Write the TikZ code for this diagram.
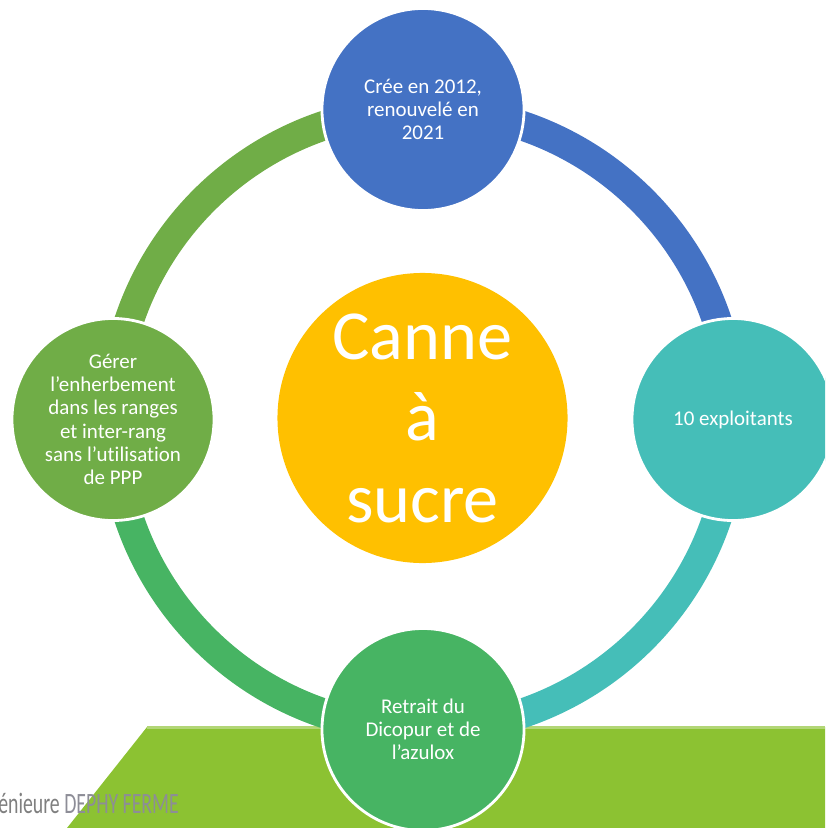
\documentclass[tikz,border=0pt]{standalone}
\usepackage{fontspec}
\setmainfont{Carlito}[Ligatures={NoCommon,NoRequired,NoContextual}]
\definecolor{cblue}{HTML}{4472C4}
\definecolor{cteal}{HTML}{45BEB8}
\definecolor{cgreenB}{HTML}{47B463}
\definecolor{cgreenL}{HTML}{70AD47}
\definecolor{cyellow}{HTML}{FFC000}
\definecolor{clime}{HTML}{8CC232}
\definecolor{climeL}{HTML}{B2D676}
\definecolor{cgrayA}{HTML}{7F7F7F}
\definecolor{cgrayB}{HTML}{8D8D97}
\tikzset{
  ringseg/.style={line width=21pt, line cap=butt},
  satellite/.style={circle, minimum size=5.05cm, inner sep=0pt, draw=white, line width=2pt,
     text=white, align=center, font=\fontsize{14.9}{16.5}\selectfont},
  hub/.style={circle, minimum size=7.25cm, inner sep=0pt, fill=cyellow, text=white,
     align=center, font=\fontsize{50}{58}\selectfont},
}
\begin{document}
\begin{tikzpicture}[x=0.025cm, y=0.025cm]
\useasboundingbox (0,0) rectangle (825,-828);
\clip (0,0) rectangle (825,-828);
% background lime band
\fill[clime] (147,-727) -- (825,-727) -- (825,-828) -- (67,-828) -- cycle;
\draw[climeL, line width=1.5pt] (147,-727.5) -- (825,-727.5);
% nodes positions
\coordinate (c) at (423,-419.5);
\coordinate (pT) at (423,-109.5);
\coordinate (pR) at (733,-419.5);
\coordinate (pB) at (423,-729.5);
\coordinate (pL) at (113,-419.5);
% ring segments
\draw[ringseg, cblue] (pT) arc[start angle=90, end angle=0, radius=7.75cm];
\draw[ringseg, cteal] (pR) arc[start angle=0, end angle=-90, radius=7.75cm];
\draw[ringseg, cgreenB] (pB) arc[start angle=-90, end angle=-180, radius=7.75cm];
\draw[ringseg, cgreenL] (pL) arc[start angle=180, end angle=90, radius=7.75cm];
% satellites
\node[satellite, fill=cblue] (top) at (pT) {Crée en 2012,\\renouvelé en\\2021};
\node[satellite, fill=cteal] (right) at (pR) {10 exploitants};
\node[satellite, fill=cgreenB] (bottom) at (pB) {Retrait du\\Dicopur et de\\l’azulox};
\node[satellite, fill=cgreenL] (left) at (pL) {Gérer\\l’enherbement\\dans les ranges\\et inter-rang\\sans l’utilisation\\de PPP};
% hub
\node[hub] (hub) at (422.5,-418) {Canne\\à\\sucre};
% footer text
\node[anchor=base west, inner sep=0pt, font=\fontsize{21}{23}\selectfont] (foot) at (-2,-813)
  {\scalebox{0.67}[1]{\color{cgrayA}énieure \color{cgrayB}DEPHY FERME}};
\end{tikzpicture}
\end{document}
